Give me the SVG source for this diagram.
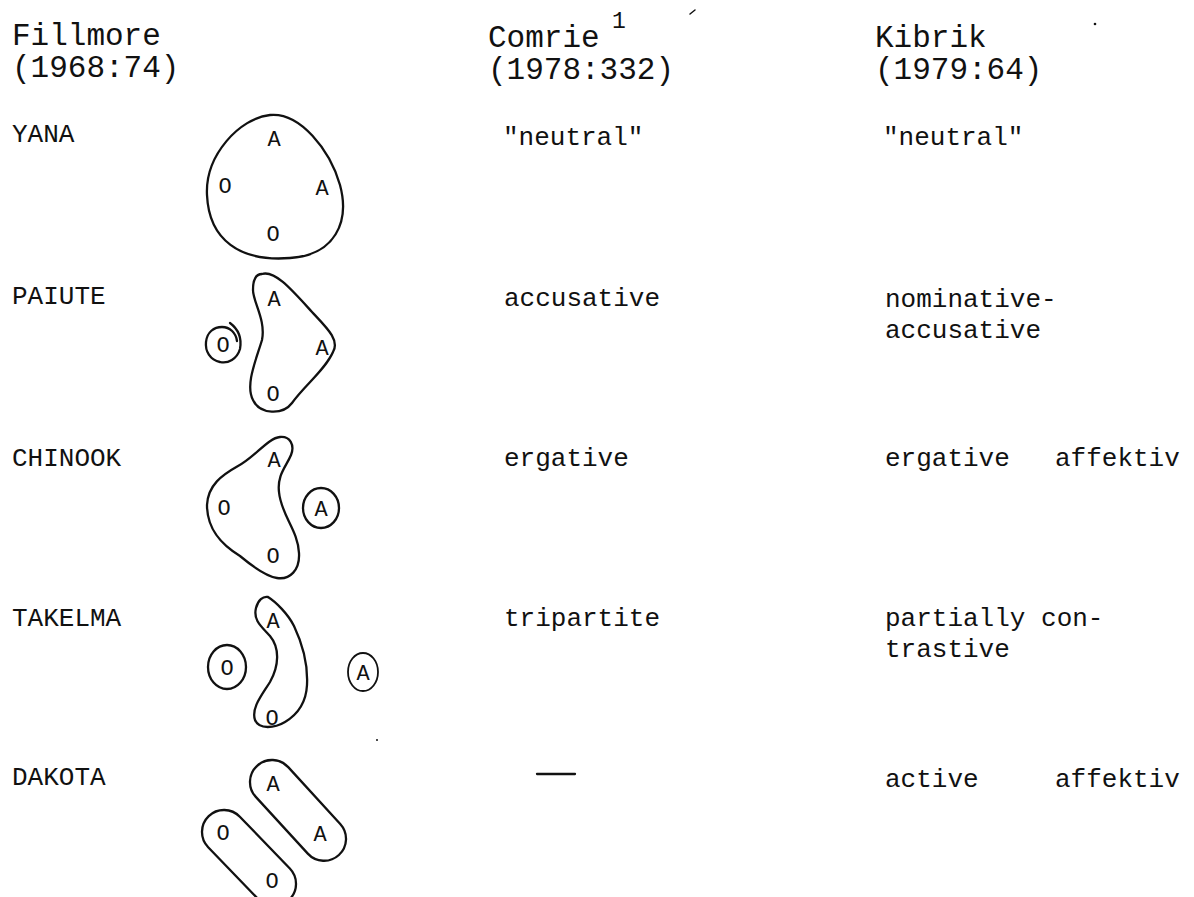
<svg xmlns="http://www.w3.org/2000/svg" width="1194" height="897" viewBox="0 0 1194 897">
<style>
.h{font-family:"Liberation Mono","DejaVu Sans Mono",monospace;font-size:31px;fill:#111}
.t{font-family:"Liberation Mono","DejaVu Sans Mono",monospace;font-size:26px;fill:#111}
.l{font-family:"Liberation Mono","DejaVu Sans Mono",monospace;font-size:22px;fill:#111;text-anchor:middle}
.s{fill:none;stroke:#111;stroke-width:2.3;stroke-linejoin:round;stroke-linecap:round}
</style>
<rect width="1194" height="897" fill="#fff"/>
<g id="headings">
<text class="h" x="12" y="45">Fillmore</text>
<text class="h" x="12" y="77">(1968:74)</text>
<text class="h" x="488" y="47">Comrie</text>
<text class="h" x="612" y="28" style="font-size:23px">1</text>
<text class="h" x="488" y="79">(1978:332)</text>
<text class="h" x="875" y="47">Kibrik</text>
<text class="h" x="875" y="79">(1979:64)</text>
</g>
<g id="marks">
<path class="s" d="M690,14 L695,10" style="stroke-width:1.5"/>
<circle cx="1095" cy="24" r="1.3" fill="#111"/>
<circle cx="377" cy="740" r="1" fill="#111"/>
</g>
<g id="row-yana">
<text class="t" x="12" y="142">YANA</text>
<path class="s" d="M270,115 C300,112 330,150 340,185 C350,222 335,255 290,258 C240,262 209,240 207,195 C205,155 240,118 270,115 Z"/>
<text class="l" x="274" y="146">A</text>
<text class="l" x="225" y="193">O</text>
<text class="l" x="322" y="195">A</text>
<text class="l" x="273" y="241">O</text>
<text class="t" x="503" y="145">"neutral"</text>
<text class="t" x="883" y="145">"neutral"</text>
</g>
<g id="row-paiute">
<text class="t" x="12" y="304">PAIUTE</text>
<path class="s" d="M230,323 C238,329 242,338 240,349 C237,359 228,364 220,362 C210,360 205,351 206,342 C207,332 214,327 222,327 C230,327 236,333 237,341"/>
<text class="l" x="223" y="352">O</text>
<path class="s" d="M262,274 C275,270 292,290 312,312 C327,328 340,340 333,352 C325,370 305,385 292,403 C283,415 260,415 253,400 C245,385 256,360 262,340 C266,320 253,302 253,290 C253,280 256,274 262,274 Z"/>
<text class="l" x="274" y="306">A</text>
<text class="l" x="322" y="355">A</text>
<text class="l" x="273" y="401">O</text>
<text class="t" x="504" y="306">accusative</text>
<text class="t" x="885" y="307">nominative-</text>
<text class="t" x="885" y="338">accusative</text>
</g>
<g id="row-chinook">
<text class="t" x="12" y="466">CHINOOK</text>
<path class="s" d="M280,437 C290,436 295,445 291,455 C286,467 277,475 279,492 C281,515 298,530 299,553 C300,570 290,580 277,578 C265,576 252,566 240,556 C222,545 207,530 207,505 C208,485 222,475 238,466 C255,457 268,438 280,437 Z"/>
<text class="l" x="274" y="467">A</text>
<text class="l" x="224" y="515">O</text>
<text class="l" x="273" y="563">O</text>
<ellipse class="s" cx="321" cy="508" rx="18" ry="20"/>
<text class="l" x="321" y="516">A</text>
<text class="t" x="504" y="466">ergative</text>
<text class="t" x="885" y="466">ergative</text>
<text class="t" x="1055" y="466">affektiv</text>
</g>
<g id="row-takelma">
<text class="t" x="12" y="626">TAKELMA</text>
<ellipse class="s" cx="227" cy="667" rx="19" ry="22"/>
<text class="l" x="227" y="675">O</text>
<path class="s" d="M268,597 C276,602 288,614 294,626 C303,645 308,665 307,685 C306,705 295,716 285,722 C275,728 259,730 255,720 C251,708 262,695 270,682 C279,666 280,648 270,636 C261,626 253,620 256,608 C258,600 263,596 268,597 Z"/>
<text class="l" x="273" y="628">A</text>
<text class="l" x="272" y="725">O</text>
<ellipse class="s" cx="363" cy="672" rx="15" ry="19" style="stroke-width:1.8"/>
<text class="l" x="363" y="680">A</text>
<text class="t" x="504" y="626">tripartite</text>
<text class="t" x="885" y="626">partially con-</text>
<text class="t" x="885" y="657">trastive</text>
</g>
<g id="row-dakota">
<text class="t" x="12" y="785">DAKOTA</text>
<rect class="s" x="-22" y="-22" width="121" height="44" rx="22" transform="translate(272,782) rotate(47.5)"/>
<text class="l" x="273" y="791">A</text>
<text class="l" x="320" y="841">A</text>
<rect class="s" x="-22" y="-22" width="116" height="44" rx="22" transform="translate(224,832) rotate(46)"/>
<text class="l" x="223" y="840">O</text>
<text class="l" x="272" y="888">O</text>
<path class="s" d="M537,774 L575,774"/>
<text class="t" x="885" y="787">active</text>
<text class="t" x="1055" y="787">affektiv</text>
</g>
</svg>
